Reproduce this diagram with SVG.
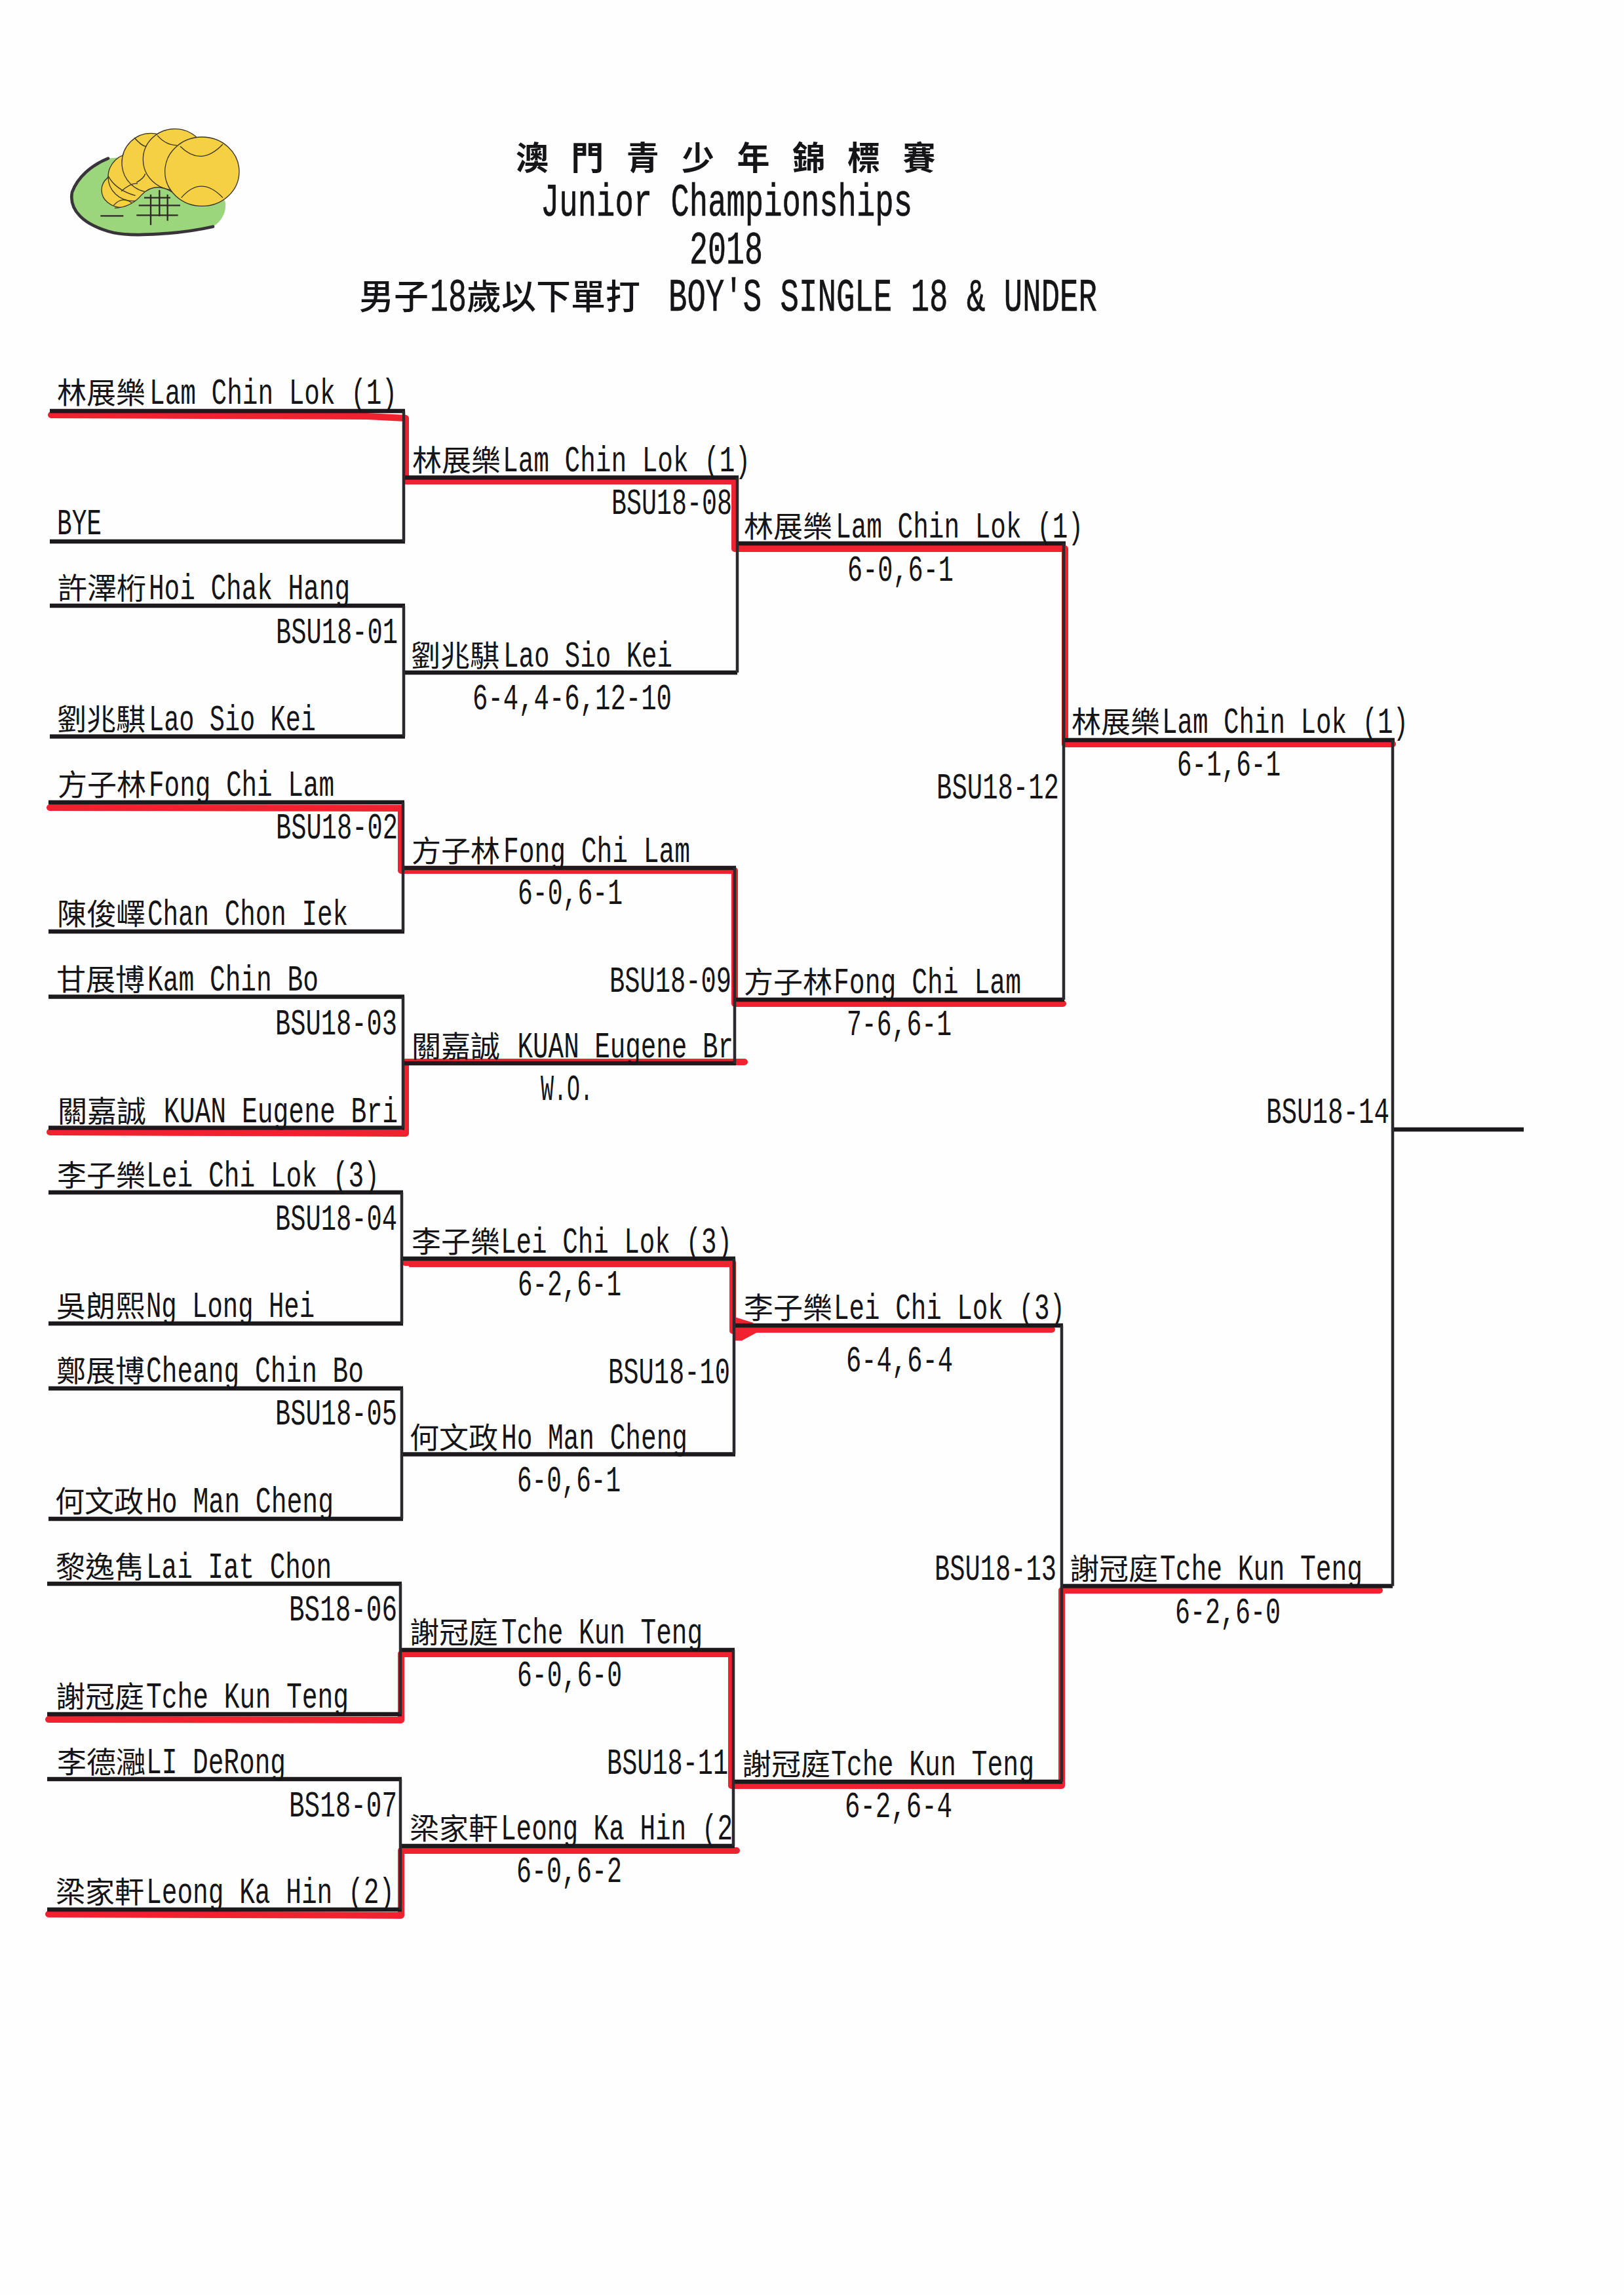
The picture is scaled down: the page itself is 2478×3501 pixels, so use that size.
<svg xmlns="http://www.w3.org/2000/svg" width="2478" height="3501" viewBox="0 0 2478 3501">
<style>
text{font-family:"Noto Sans CJK TC","Liberation Mono",monospace;fill:#151518}
.n{font-size:45px}
.m{font-family:"Liberation Mono",monospace;font-size:56px}
.t{font-size:50px;font-weight:700;word-spacing:23px}
.tl{font-family:"Liberation Mono",monospace;font-size:70px;stroke:#151518;stroke-width:.7}
.tc{font-size:53px;font-weight:500}
.h{fill:none;stroke:#1c1a1c;stroke-width:6.5}
.v{fill:none;stroke:#2a2a2e;stroke-width:4.5}
.r{fill:none;stroke:#f0222f;stroke-width:10;stroke-linejoin:round;stroke-linecap:round}
.lg{fill:#f6d043;stroke:#3a3428;stroke-width:4}
.sm{fill:none;stroke:#3a3428;stroke-width:4}
</style>
<rect width="2478" height="3501" fill="#fefefe"/>

<g id="logo" transform="translate(90,180) scale(.3333)">
<path d="M225 185C150 215 85 270 60 340C45 420 110 490 250 525C340 545 560 530 705 497C750 470 770 420 760 380L600 150Z" fill="#9bd67c"/>
<path d="M225 185C150 215 85 270 60 340C45 420 110 490 250 525C340 545 560 530 705 497" fill="none" stroke="#38343a" stroke-width="14" stroke-linecap="round"/>
<ellipse class="lg" cx="290" cy="330" rx="95" ry="80"/>
<ellipse class="lg" cx="340" cy="270" rx="115" ry="110"/>
<ellipse class="lg" cx="420" cy="205" rx="132" ry="135"/>
<ellipse class="lg" cx="530" cy="190" rx="145" ry="140"/>
<path d="M250 400Q290 355 335 390M285 335Q330 295 360 300M355 295Q390 275 395 255M345 90Q380 130 400 130M450 80Q490 125 540 125M225 265Q260 330 350 355" class="sm"/>
<path d="M255 412Q330 410 380 350Q440 290 520 340L610 420L760 400L700 490L300 510Z" fill="#9bd67c"/>
<path d="M255 412Q330 410 380 350Q440 290 520 340" class="sm"/>
<ellipse class="lg" cx="655" cy="245" rx="170" ry="158"/>
<path d="M555 130Q650 225 750 120M560 365Q650 260 750 365" class="sm"/>
<path d="M190 448H295M355 445H545M365 400H555M390 365H510M420 350V490M460 330V450M497 350V470" fill="none" stroke="#2c2a22" stroke-width="7"/>
</g>

<g id="title">
<text class="t" x="787" y="259">澳 門 青 少 年 錦 標 賽</text>
<text class="tl" x="825" y="329" textLength="567" lengthAdjust="spacingAndGlyphs">Junior Championships</text>
<text class="tl" x="1052" y="402" textLength="112" lengthAdjust="spacingAndGlyphs">2018</text>
<text class="tc" x="548" y="472">男子<tspan class="tl" x="656" y="474" textLength="56" lengthAdjust="spacingAndGlyphs">18</tspan><tspan x="712" y="472">歲以下單打 </tspan><tspan class="tl" x="1020" y="474" textLength="654" lengthAdjust="spacingAndGlyphs">BOY'S SINGLE 18 &amp; UNDER</tspan></text>
</g>

<g id="connectors">
<g id="winner-marks">
<path class="r" d="M78 633L560 635L619 638V734H1121V837H1625V1135H2125"/>
<path class="r" d="M76 1232L612 1233V1328H1121V1531H1622"/>
<path class="r" d="M76 1727L615 1729H619V1620H1136"/>
<path class="r" d="M618 1926H1118V2030M1120 2028H1605" />
<path d="M615 1922H1122V1933H625Z" fill="#f0222f"/>
<path d="M1121 2009L1150 2018L1136 2026L1160 2030L1132 2045H1118Z" fill="#f0222f"/>
<path class="r" d="M74 2623L612 2624V2523H1116V2724H1620V2426H2105"/>
<path class="r" d="M74 2920L612 2922V2823H1124"/>
</g>
<path class="h" d="M76 627H618M76 826H618M76 924H618M76 1123.5H618M74 1224H617M74 1421H617M74 1520.5H617M74 1720.5H617M74 1819H615M74 2019H615M74 2118H615M74 2317H615M72 2416H613M72 2615H613M72 2714H613M72 2913H613"/>
<path class="h" d="M616 728.5H1127M616 1026H1125M616 1324H1123M616 1622H1123M615 1920H1122M615 2218.5H1122M612 2517H1121M612 2816H1121"/>
<path class="h" d="M1124 829H1626M1121 1525H1624M1120 2022H1622M1119 2718H1621M1623 1129H2128M1620 2419.5H2125M2125 1723H2325"/>
<path class="v" d="M616 627V826M616 924V1123.5M615 1224V1421M615 1520.5V1720.5M613 1819V2019M613 2118V2317M611 2416V2615M611 2714V2913"/>
<path class="v" d="M1125 728.5V1026M1121 1324V1622M1120 1920V2218.5M1119 2517V2816M1623 829V1525M1620 2022V2718M2125 1129V2419.5"/>
</g>

<g id="r1-01"><text class="n" x="87" y="616">林展樂<tspan class="m" x="228" textLength="378" lengthAdjust="spacingAndGlyphs">Lam Chin Lok (1)</tspan></text></g>
<g id="r1-02"><text class="m" x="87" y="815" textLength="68" lengthAdjust="spacingAndGlyphs">BYE</text></g>
<g id="r1-03"><text class="n" x="88" y="914">許澤桁<tspan class="m" x="227" textLength="307" lengthAdjust="spacingAndGlyphs">Hoi Chak Hang</tspan></text></g>
<g id="m01"><text class="m" x="421" y="981" textLength="186" lengthAdjust="spacingAndGlyphs">BSU18-01</text></g>
<g id="r1-04"><text class="n" x="87" y="1114">劉兆騏<tspan class="m" x="227" textLength="255" lengthAdjust="spacingAndGlyphs">Lao Sio Kei</tspan></text></g>
<g id="r1-05"><text class="n" x="88" y="1214">方子林<tspan class="m" x="227" textLength="283" lengthAdjust="spacingAndGlyphs">Fong Chi Lam</tspan></text></g>
<g id="m02"><text class="m" x="421" y="1279" textLength="186" lengthAdjust="spacingAndGlyphs">BSU18-02</text></g>
<g id="r1-06"><text class="n" x="87" y="1411">陳俊嶧<tspan class="m" x="225" textLength="306" lengthAdjust="spacingAndGlyphs">Chan Chon Iek</tspan></text></g>
<g id="r1-07"><text class="n" x="86" y="1511">甘展博<tspan class="m" x="225" textLength="261" lengthAdjust="spacingAndGlyphs">Kam Chin Bo</tspan></text></g>
<g id="m03"><text class="m" x="420" y="1578" textLength="186" lengthAdjust="spacingAndGlyphs">BSU18-03</text></g>
<g id="r1-08"><text class="n" x="88" y="1712">關嘉誠<tspan class="m" x="226" textLength="381" lengthAdjust="spacingAndGlyphs"> KUAN Eugene Bri</tspan></text></g>
<g id="r1-09"><text class="n" x="87" y="1810">李子樂<tspan class="m" x="223" textLength="356" lengthAdjust="spacingAndGlyphs">Lei Chi Lok (3)</tspan></text></g>
<g id="m04"><text class="m" x="420" y="1876" textLength="186" lengthAdjust="spacingAndGlyphs">BSU18-04</text></g>
<g id="r1-10"><text class="n" x="86" y="2009">吳朗熙<tspan class="m" x="223" textLength="257" lengthAdjust="spacingAndGlyphs">Ng Long Hei</tspan></text></g>
<g id="r1-11"><text class="n" x="86" y="2108">鄭展博<tspan class="m" x="223" textLength="332" lengthAdjust="spacingAndGlyphs">Cheang Chin Bo</tspan></text></g>
<g id="m05"><text class="m" x="420" y="2173" textLength="186" lengthAdjust="spacingAndGlyphs">BSU18-05</text></g>
<g id="r1-12"><text class="n" x="84" y="2307">何文政<tspan class="m" x="223" textLength="286" lengthAdjust="spacingAndGlyphs">Ho Man Cheng</tspan></text></g>
<g id="r1-13"><text class="n" x="85" y="2407">黎逸雋<tspan class="m" x="223" textLength="283" lengthAdjust="spacingAndGlyphs">Lai Iat Chon</tspan></text></g>
<g id="m06"><text class="m" x="441" y="2472" textLength="165" lengthAdjust="spacingAndGlyphs">BS18-06</text></g>
<g id="r1-14"><text class="n" x="85" y="2605">謝冠庭<tspan class="m" x="223" textLength="309" lengthAdjust="spacingAndGlyphs">Tche Kun Teng</tspan></text></g>
<g id="r1-15"><text class="n" x="87" y="2705">李德瀜<tspan class="m" x="223" textLength="213" lengthAdjust="spacingAndGlyphs">LI DeRong</tspan></text></g>
<g id="m07"><text class="m" x="441" y="2771" textLength="165" lengthAdjust="spacingAndGlyphs">BS18-07</text></g>
<g id="r1-16"><text class="n" x="85" y="2903">梁家軒<tspan class="m" x="223" textLength="379" lengthAdjust="spacingAndGlyphs">Leong Ka Hin (2)</tspan></text></g>

<g id="r2-1"><text class="n" x="629" y="719">林展樂<tspan class="m" x="767" textLength="378" lengthAdjust="spacingAndGlyphs">Lam Chin Lok (1)</tspan></text><text class="m" x="933" y="784" textLength="184" lengthAdjust="spacingAndGlyphs">BSU18-08</text></g>
<g id="r2-2"><text class="n" x="627" y="1017">劉兆騏<tspan class="m" x="768" textLength="258" lengthAdjust="spacingAndGlyphs">Lao Sio Kei</tspan></text><text class="m" x="721" y="1082" textLength="304" lengthAdjust="spacingAndGlyphs">6-4,4-6,12-10</text></g>
<g id="r2-3"><text class="n" x="628" y="1315">方子林<tspan class="m" x="768" textLength="285" lengthAdjust="spacingAndGlyphs">Fong Chi Lam</tspan></text><text class="m" x="790" y="1379" textLength="160" lengthAdjust="spacingAndGlyphs">6-0,6-1</text></g>
<g id="r2-4"><text class="n" x="628" y="1613">關嘉誠<tspan class="m" x="766" textLength="353" lengthAdjust="spacingAndGlyphs"> KUAN Eugene Br</tspan></text><text class="m" x="930" y="1513" textLength="186" lengthAdjust="spacingAndGlyphs">BSU18-09</text><text class="m" x="825" y="1678" textLength="80" lengthAdjust="spacingAndGlyphs">W.O.</text></g>
<g id="r2-5"><text class="n" x="628" y="1911">李子樂<tspan class="m" x="764" textLength="353" lengthAdjust="spacingAndGlyphs">Lei Chi Lok (3)</tspan></text><text class="m" x="790" y="1976" textLength="158" lengthAdjust="spacingAndGlyphs">6-2,6-1</text></g>
<g id="r2-6"><text class="n" x="625" y="2210">何文政<tspan class="m" x="765" textLength="284" lengthAdjust="spacingAndGlyphs">Ho Man Cheng</tspan></text><text class="m" x="928" y="2110" textLength="186" lengthAdjust="spacingAndGlyphs">BSU18-10</text><text class="m" x="789" y="2275" textLength="158" lengthAdjust="spacingAndGlyphs">6-0,6-1</text></g>
<g id="r2-7"><text class="n" x="625" y="2507">謝冠庭<tspan class="m" x="765" textLength="307" lengthAdjust="spacingAndGlyphs">Tche Kun Teng</tspan></text><text class="m" x="789" y="2572" textLength="160" lengthAdjust="spacingAndGlyphs">6-0,6-0</text></g>
<g id="r2-8"><text class="n" x="625" y="2806">梁家軒<tspan class="m" x="764" textLength="354" lengthAdjust="spacingAndGlyphs">Leong Ka Hin (2</tspan></text><text class="m" x="926" y="2706" textLength="185" lengthAdjust="spacingAndGlyphs">BSU18-11</text><text class="m" x="788" y="2871" textLength="161" lengthAdjust="spacingAndGlyphs">6-0,6-2</text></g>

<g id="r3-1"><text class="n" x="1135" y="820">林展樂<tspan class="m" x="1275" textLength="378" lengthAdjust="spacingAndGlyphs">Lam Chin Lok (1)</tspan></text><text class="m" x="1293" y="886" textLength="162" lengthAdjust="spacingAndGlyphs">6-0,6-1</text></g>
<g id="r3-2"><text class="n" x="1135" y="1515">方子林<tspan class="m" x="1272" textLength="286" lengthAdjust="spacingAndGlyphs">Fong Chi Lam</tspan></text><text class="m" x="1292" y="1579" textLength="160" lengthAdjust="spacingAndGlyphs">7-6,6-1</text><text class="m" x="1429" y="1218" textLength="187" lengthAdjust="spacingAndGlyphs">BSU18-12</text></g>
<g id="r3-3"><text class="n" x="1135" y="2012">李子樂<tspan class="m" x="1272" textLength="353" lengthAdjust="spacingAndGlyphs">Lei Chi Lok (3)</tspan></text><text class="m" x="1291" y="2092" textLength="163" lengthAdjust="spacingAndGlyphs">6-4,6-4</text></g>
<g id="r3-4"><text class="n" x="1132" y="2708">謝冠庭<tspan class="m" x="1268" textLength="310" lengthAdjust="spacingAndGlyphs">Tche Kun Teng</tspan></text><text class="m" x="1289" y="2772" textLength="164" lengthAdjust="spacingAndGlyphs">6-2,6-4</text><text class="m" x="1426" y="2410" textLength="186" lengthAdjust="spacingAndGlyphs">BSU18-13</text></g>

<g id="r4-1"><text class="n" x="1635" y="1118">林展樂<tspan class="m" x="1773" textLength="376" lengthAdjust="spacingAndGlyphs">Lam Chin Lok (1)</tspan></text><text class="m" x="1796" y="1183" textLength="158" lengthAdjust="spacingAndGlyphs">6-1,6-1</text></g>
<g id="r4-2"><text class="n" x="1632" y="2410">謝冠庭<tspan class="m" x="1770" textLength="309" lengthAdjust="spacingAndGlyphs">Tche Kun Teng</tspan></text><text class="m" x="1793" y="2476" textLength="161" lengthAdjust="spacingAndGlyphs">6-2,6-0</text></g>
<g id="final"><text class="m" x="1932" y="1713" textLength="188" lengthAdjust="spacingAndGlyphs">BSU18-14</text></g>
</svg>
